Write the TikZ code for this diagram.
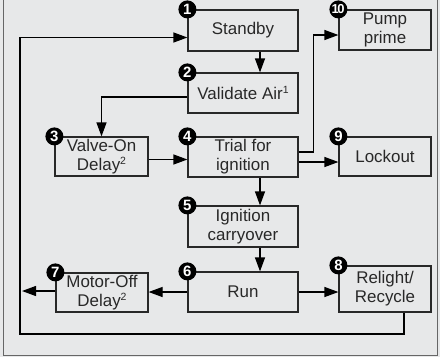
\documentclass[tikz,border=0pt]{standalone}
\usepackage{fontspec}
\setmainfont{Liberation Sans}
\usetikzlibrary{arrows.meta}
\definecolor{panel}{RGB}{231,232,233}
\definecolor{ink}{RGB}{40,40,40}
\newcommand{\notemark}[1]{\raisebox{6bp}{\fontsize{10.5}{10.5}\selectfont #1}}

\begin{document}
\begin{tikzpicture}[x=1bp,y=-1bp,
    state/.style={draw=ink,line width=1.2bp,fill=panel,text=ink,align=center,
        inner sep=0pt,font=\fontsize{17}{19}\selectfont},
    badge/.style={circle,fill=black,text=white,inner sep=0pt,minimum size=18bp,
        font=\bfseries\fontsize{15}{15}\selectfont},
    arr/.style={draw=black,line width=1.2bp,-{Triangle[length=14bp,width=10bp]}}]
            \fill[panel] (0,0) rectangle (440,357);
            \useasboundingbox (0,0) rectangle (440,357);
            \draw[gray!80!black,line width=0.8bp] (3,0) |- (437,355) -- (437,0);
            % states
            \node[state,minimum width=110bp,minimum height=41bp] (standby) at (243,30.5) {Standby};
            \node[state,minimum width=110bp,minimum height=40bp] (validate) at (243,93) {Validate Air\notemark{1}};
            \node[state,minimum width=93bp,minimum height=39bp] (valveon) at (101.5,156.5) {Valve-On\\Delay\notemark{2}};
            \node[state,minimum width=110bp,minimum height=40bp] (trial) at (243,157) {Trial for\\ignition};
            \node[state,minimum width=92bp,minimum height=40bp] (pump) at (385,30) {Pump\\prime};
            \node[state,minimum width=92bp,minimum height=39bp] (lockout) at (385,156.5) {Lockout};
            \node[state,minimum width=110bp,minimum height=41bp] (carry) at (243,226.5) {Ignition\\carryover};
            \node[state,minimum width=110bp,minimum height=40bp] (run) at (243,292) {Run};
            \node[state,minimum width=92bp,minimum height=39bp] (motoroff) at (102,292.5) {Motor-Off\\Delay\notemark{2}};
            \node[state,minimum width=92bp,minimum height=46bp] (relight) at (385,289) {Relight/\\Recycle};
            % numbers
            \node[badge] (n1) at (standby.north west) {1};
            \node[badge] (n2) at (validate.north west) {2};
            \node[badge] (n3) at (valveon.north west) {3};
            \node[badge] (n4) at (trial.north west) {4};
            \node[badge] (n5) at (carry.north west) {5};
            \node[badge] (n6) at (run.north west) {6};
            \node[badge] (n7) at (motoroff.north west) {7};
            \node[badge] (n8) at (relight.north west) {8};
            \node[badge] (n9) at (lockout.north west) {9};
            \node[badge,font=\bfseries\fontsize{13}{13}\selectfont] (n10) at (pump.north west) {\kern-0.5bp1\kern-1.5bp0};
            % connectors
            \coordinate (spine) at (260,0);
            \coordinate (out) at (22,291);
            \coordinate (loopdl) at (20,334);
            \draw[arr] (standby.south -| spine) -- (validate.north -| spine);
            \draw[arr] ([yshift=-4bp]validate.west) -| (valveon.north);
            \draw[arr] ([yshift=-3bp]valveon.east) -- ([yshift=-3bp]valveon.east -| trial.west);
            \draw[arr] ([yshift=5bp]trial.east) -- ++(15,0) |- ([yshift=-5bp]pump.west);
            \draw[arr] ([yshift=-5bp]trial.east) -- ([yshift=-5bp]trial.east -| lockout.west);
            \draw[arr] (trial.south -| spine) -- (carry.north -| spine);
            \draw[arr] (carry.south -| spine) -- (run.north -| spine);
            \draw[arr] (run.west) -- (run.west -| motoroff.east);
            \draw[arr] (motoroff.west |- out) -- (out);
            \draw[arr] (run.east) -- (run.east -| relight.west);
            \draw[arr] ([xshift=19bp]relight.south) |- (loopdl) |- ([yshift=-7bp]standby.west);
        \end{tikzpicture}
\end{document}
